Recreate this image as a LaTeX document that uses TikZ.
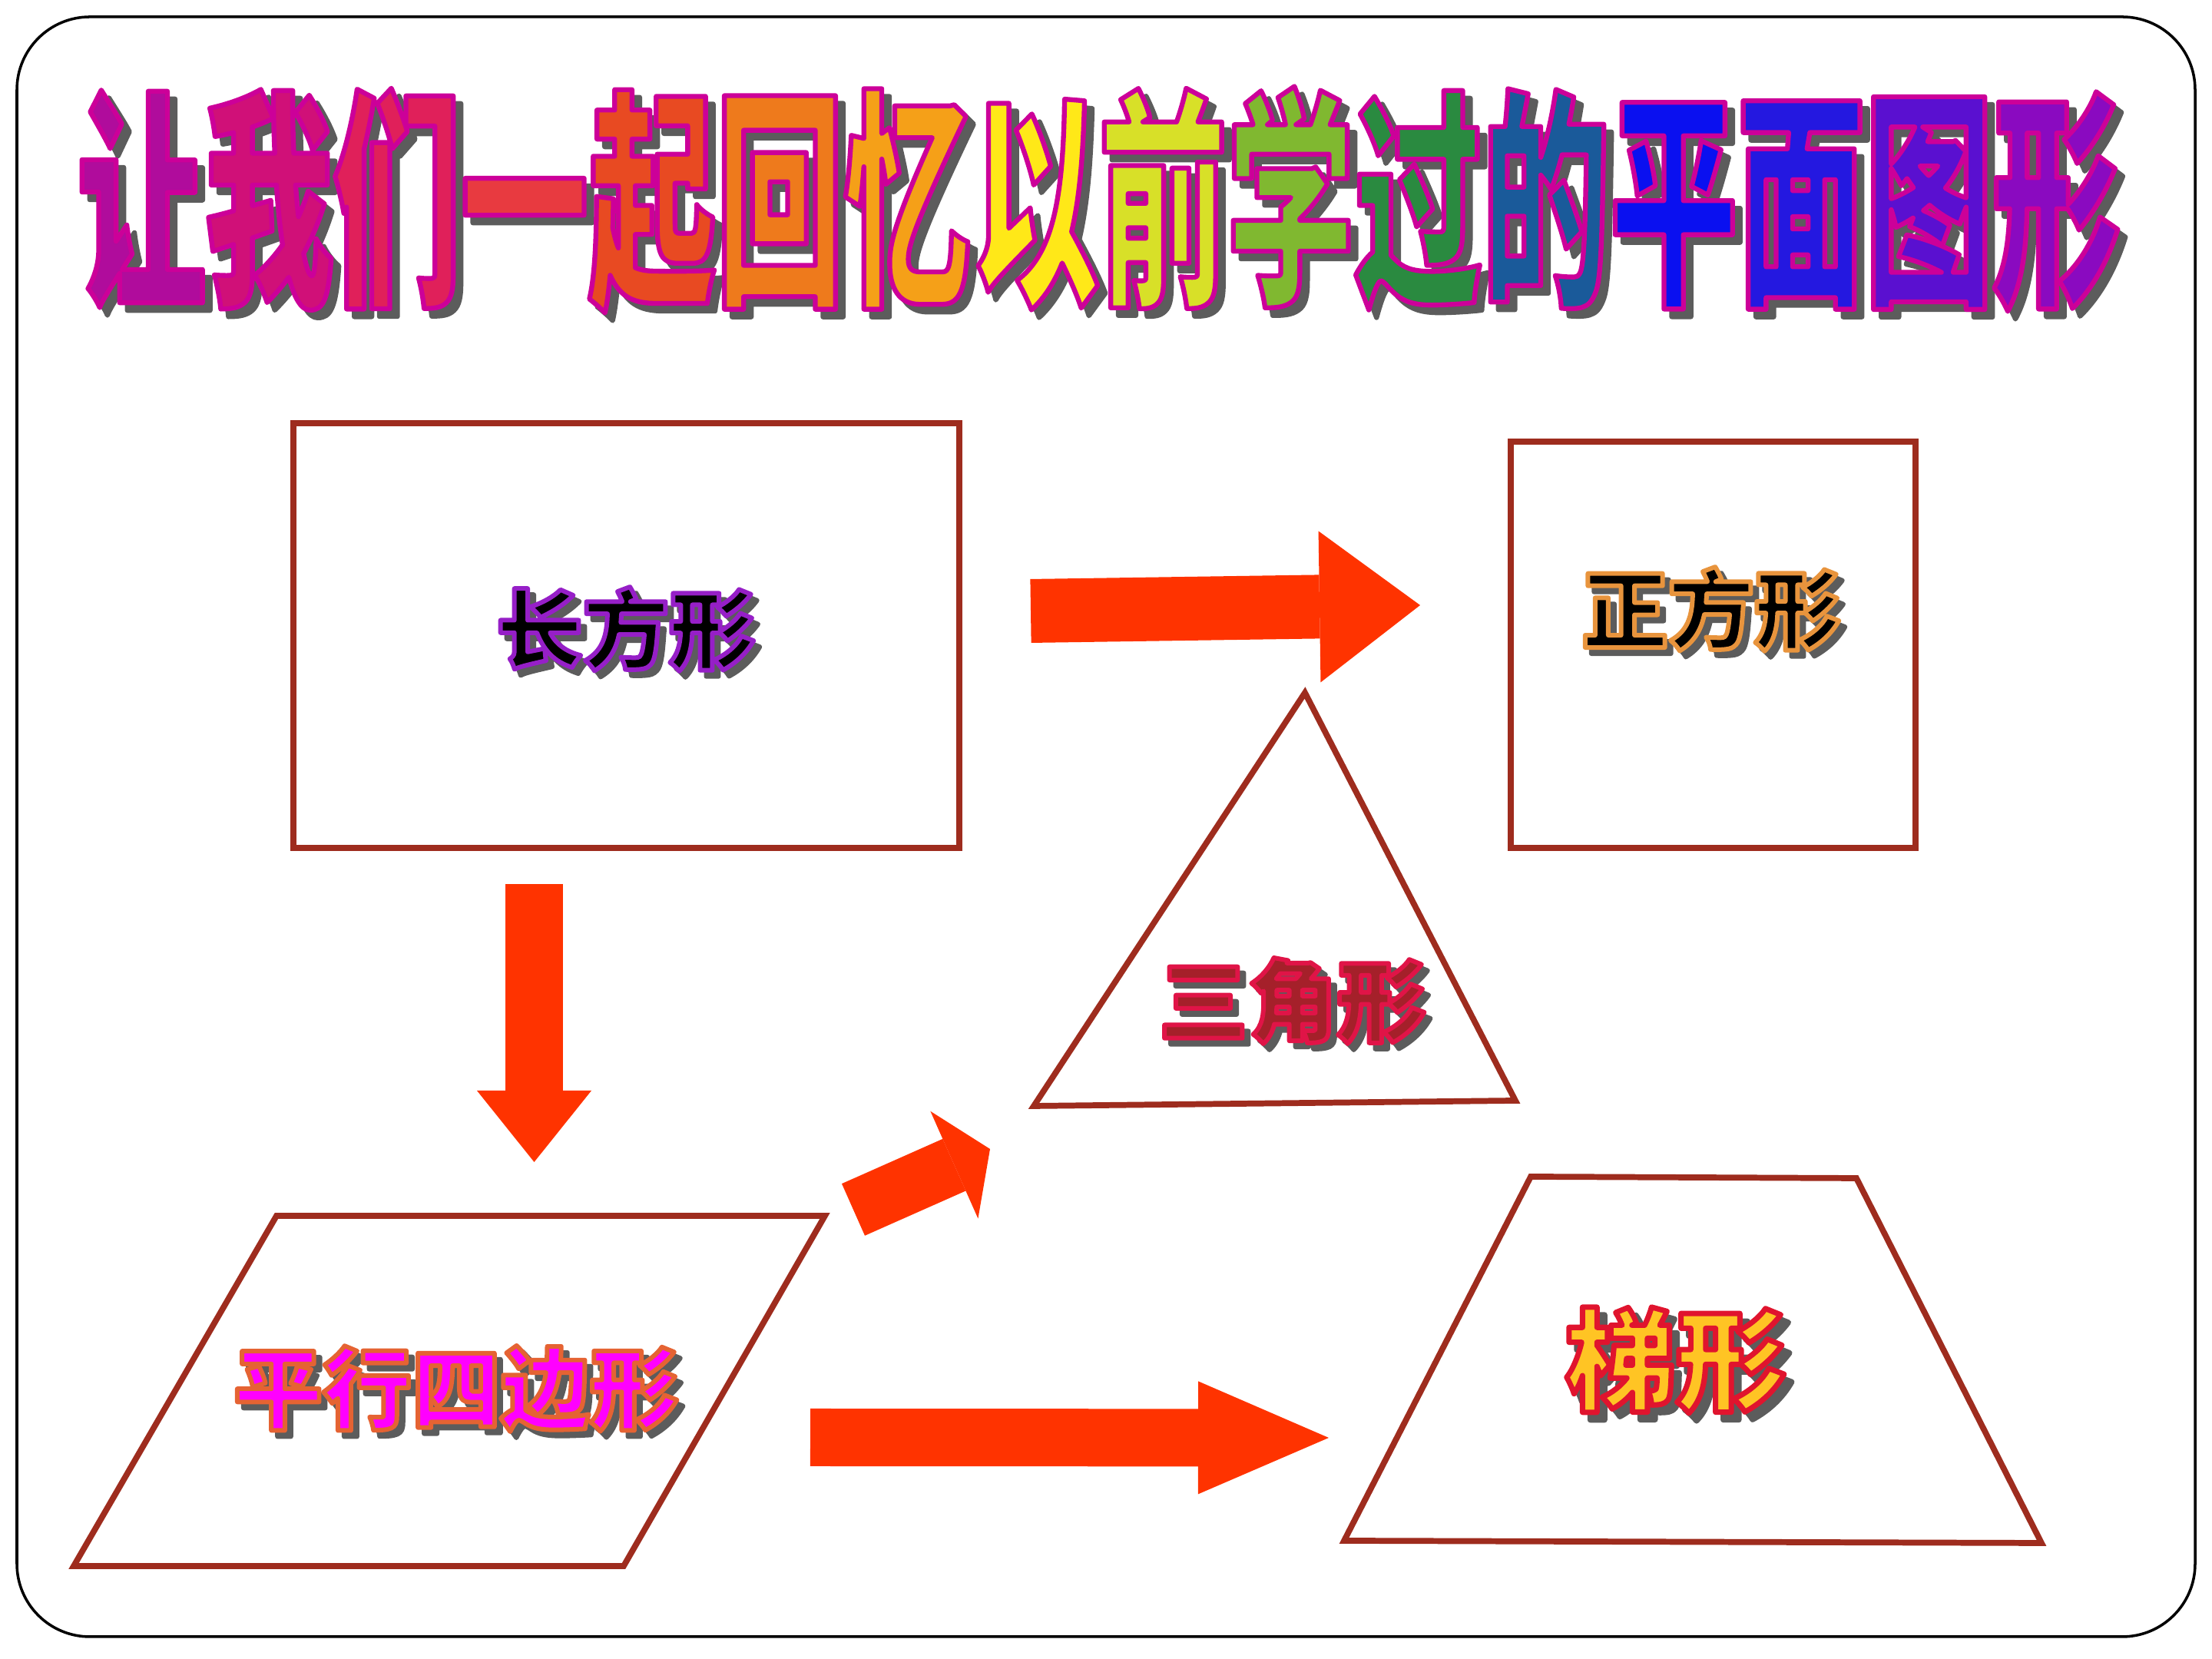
\documentclass[tikz,border=0pt]{standalone}
\usepackage{fontspec}
\usepackage{tikz}
\usetikzlibrary{arrows.meta}
\usepackage{xcolor}
\newfontfamily\cjkfont{Noto Sans CJK SC}
\newfontfamily\titlefont{Noto Sans CJK SC}[FakeStretch=0.55]
\definecolor{figline}{RGB}{158,44,30}
\definecolor{arrowred}{RGB}{255,51,0}
\definecolor{shadowgray}{RGB}{92,92,92}
\definecolor{trifill}{RGB}{165,32,42}
\definecolor{parafill}{RGB}{255,0,255}
\definecolor{trapfill}{RGB}{255,196,36}

% #1 fill colour, #2 edge rgb, #3 shadow shift, #4 edge width (bp), #5 text
\newcommand{\wordart}[5]{%
  \leavevmode
  \rlap{\hspace*{#3}\raisebox{-#3}{\color{shadowgray}%
    \special{pdf:literal direct 2 Tr #4 w 1 j}#5\special{pdf:literal direct 0 Tr}}}%
  {\color{#1}\special{pdf:literal direct #2 RG 2 Tr #4 w 1 j}#5%
    \special{pdf:literal direct 0 Tr}}}

\begin{document}
\begin{tikzpicture}
  \tikzset{
    slide/.style={draw=black, line width=1pt, rounded corners=0.95cm},
    figure/.style={draw=figline, line width=2.2pt, line join=miter},
    tag/.style={inner sep=0pt, font=\cjkfont\bfseries},
    blockarrow/.style n args={3}{
      draw=arrowred,
      line width=#1,
      -{Triangle[length=#2, width=#3, line width=0pt]}
    }
  }
  \useasboundingbox (0,0) rectangle (28.8,21.6);

  % Slide frame
  \draw[slide] (0.22,0.29) rectangle (28.58,21.38);

  % Title, one colour per character
  \node[tag, font=\titlefont\bfseries\fontsize{86}{86}\selectfont] (title) at (14.31,18.95) {%
    \foreach \ch/\hue in {让/B00C9C,我/D01078,们/E0205A,一/E83A40,起/E84A22,回/EE7A1C,忆/F5A018,以/FFE818,前/D8E028,学/80B830,过/2A8A40,的/1A5A9A,平/0A10F0,面/2418E0,图/5A10D0,形/8A0AC0}{%
      \definecolor{hue}{HTML}{\hue}%
      \wordart{hue}{0.8 0 0.6}{0.1cm}{1.8}{\ch}}%
  };

  % Rectangle
  \coordinate (rectNW) at (3.82,16.09);
  \coordinate (rectSE) at (12.49,10.56);
  \draw[figure] (rectNW) rectangle (rectSE);
  \node[tag] (rectLabel) at (8.15,13.37) {%
    \fontsize{32}{32}\selectfont\wordart{black}{0.59 0.12 0.78}{0.08cm}{1.7}{长方形}};

  % Square
  \coordinate (squareNW) at (19.67,15.85);
  \coordinate (squareSE) at (24.94,10.56);
  \draw[figure] (squareNW) rectangle (squareSE);
  \node[tag] (squareLabel) at (22.28,13.63) {%
    \fontsize{32}{32}\selectfont\wordart{black}{0.91 0.58 0.24}{0.08cm}{1.7}{正方形}};

  % Triangle
  \coordinate (triTop) at (16.99,12.58);
  \coordinate (triLeft) at (13.46,7.20);
  \coordinate (triRight) at (19.73,7.27);
  \draw[figure] (triTop) -- (triRight) -- (triLeft) -- cycle;
  \node[tag] (triLabel) at (16.83,8.53) {%
    \fontsize{33}{33}\selectfont\wordart{trifill}{0.88 0.08 0.28}{0.08cm}{1.7}{三角形}};

  % Parallelogram
  \coordinate (paraNW) at (3.60,5.77);
  \coordinate (paraNE) at (10.74,5.77);
  \coordinate (paraSE) at (8.12,1.21);
  \coordinate (paraSW) at (0.96,1.21);
  \draw[figure] (paraNW) -- (paraNE) -- (paraSE) -- (paraSW) -- cycle;
  \node[tag] (paraLabel) at (5.94,3.48) {%
    \fontsize{33}{33}\selectfont\wordart{parafill}{0.9 0.39 0.2}{0.08cm}{1.7}{平行四边形}};

  % Trapezoid
  \coordinate (trapNW) at (19.93,6.28);
  \coordinate (trapNE) at (24.17,6.26);
  \coordinate (trapSE) at (26.58,1.51);
  \coordinate (trapSW) at (17.50,1.54);
  \draw[figure] (trapNW) -- (trapNE) -- (trapSE) -- (trapSW) -- cycle;
  \node[tag] (trapLabel) at (21.82,3.84) {%
    \fontsize{41}{41}\selectfont\wordart{trapfill}{0.88 0.08 0.18}{0.1cm}{2}{梯形}};

  % Block arrows
  \coordinate (topTail) at (13.42,13.645);
  \coordinate (topTip) at (18.49,13.72);
  \draw[blockarrow={0.83cm}{1.31cm}{1.97cm}] (topTail) -- (topTip);

  \coordinate (downTail) at (6.955,10.09);
  \coordinate (downTip) at (6.955,6.47);
  \draw[blockarrow={0.75cm}{0.93cm}{1.49cm}] (downTail) -- (downTip);

  \coordinate (diagTail) at (11.11,5.85);
  \coordinate (diagTip) at (12.89,6.64);
  \draw[blockarrow={0.74cm}{0.51cm}{1.53cm}] (diagTail) -- (diagTip);

  \coordinate (lowTail) at (10.55,2.885);
  \coordinate (lowTip) at (17.30,2.88);
  \draw[blockarrow={0.75cm}{1.70cm}{1.47cm}] (lowTail) -- (lowTip);
\end{tikzpicture}
\end{document}
